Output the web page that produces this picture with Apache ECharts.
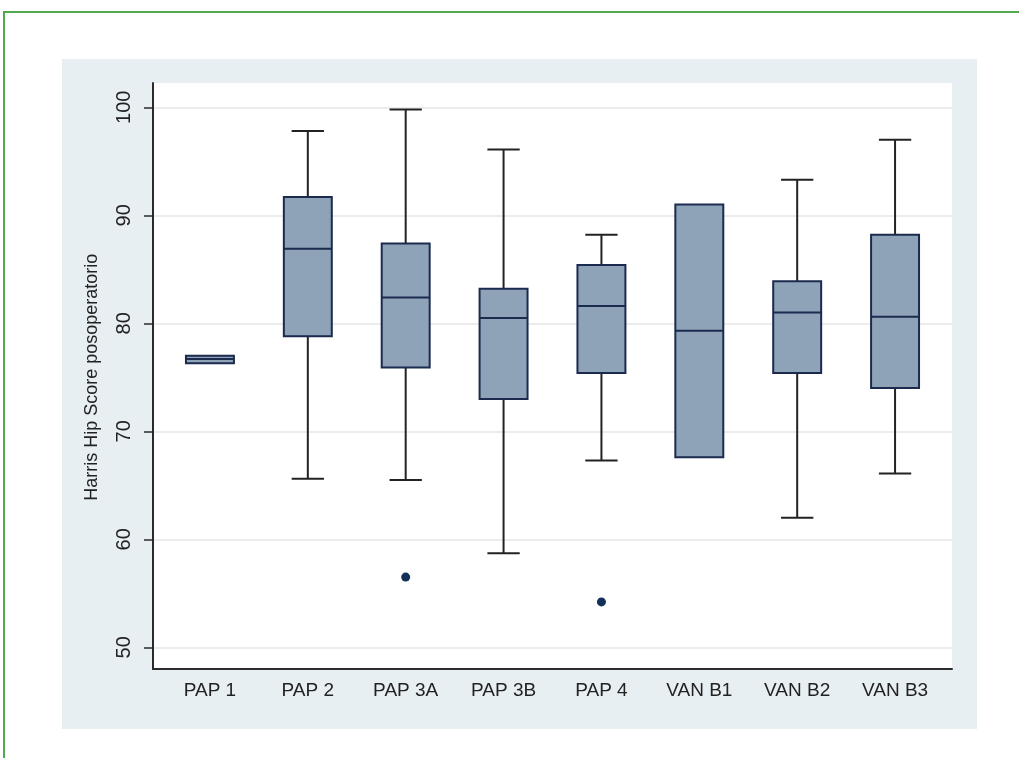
<!DOCTYPE html>
<html>
<head>
<meta charset="utf-8">
<style>
  html, body { margin: 0; padding: 0; background: #ffffff; }
  #chart { width: 1019px; height: 758px; }
</style>
<script src="https://cdn.jsdelivr.net/npm/echarts@6/dist/echarts.min.js"></script>
</head>
<body>
<div id="chart"></div>
<script>
// Harris Hip Score after surgery, by group
const categories = ['PAP 1', 'PAP 2', 'PAP 3A', 'PAP 3B', 'PAP 4', 'VAN B1', 'VAN B2', 'VAN B3'];
const whiskerLow  = [76.3, 65.6, 65.5, 58.7, 67.3, 67.6, 62.0, 66.1];
const quartile1   = [76.3, 78.8, 75.9, 73.0, 75.4, 67.6, 75.4, 74.0];
const medians     = [76.7, 86.9, 82.4, 80.5, 81.6, 79.3, 81.0, 80.6];
const quartile3   = [77.0, 91.7, 87.4, 83.2, 85.4, 91.0, 83.9, 88.2];
const whiskerHigh = [77.0, 97.8, 99.8, 96.1, 88.2, 91.0, 93.3, 97.0];
const outliers = [['PAP 3A', 56.5], ['PAP 4', 54.2]];
const yTicks = { min: 50, max: 100, step: 10 };
const yTitle = 'Harris Hip Score posoperatorio';

const FONT = '"Liberation Sans", Arial, Helvetica, sans-serif';
const BOX_FILL = '#8ea3b8';
const BOX_EDGE = '#1b2a4e';
const WHISKER = '#222222';

const boxData = categories.map((c, i) => [i, whiskerLow[i], quartile1[i], medians[i], quartile3[i], whiskerHigh[i]]);

function renderBox(params, api) {
  const idx = api.value(0);
  const band = api.size([1, 0])[0];
  const boxW = band * 0.49;
  const capW = band * 0.33;
  const pLow = api.coord([idx, api.value(1)]);
  const pQ1 = api.coord([idx, api.value(2)]);
  const pMed = api.coord([idx, api.value(3)]);
  const pQ3 = api.coord([idx, api.value(4)]);
  const pHigh = api.coord([idx, api.value(5)]);
  const cx = pMed[0];
  const children = [];
  const whiskerStyle = { stroke: WHISKER, lineWidth: 2 };
  if (pLow[1] - pQ1[1] > 0.5) {
    children.push({ type: 'line', shape: { x1: cx, y1: pQ1[1], x2: cx, y2: pLow[1] }, style: whiskerStyle });
    children.push({ type: 'line', shape: { x1: cx - capW / 2, y1: pLow[1], x2: cx + capW / 2, y2: pLow[1] }, style: whiskerStyle });
  }
  if (pQ3[1] - pHigh[1] > 0.5) {
    children.push({ type: 'line', shape: { x1: cx, y1: pHigh[1], x2: cx, y2: pQ3[1] }, style: whiskerStyle });
    children.push({ type: 'line', shape: { x1: cx - capW / 2, y1: pHigh[1], x2: cx + capW / 2, y2: pHigh[1] }, style: whiskerStyle });
  }
  children.push({
    type: 'rect',
    shape: { x: cx - boxW / 2, y: pQ3[1], width: boxW, height: pQ1[1] - pQ3[1] },
    style: { fill: BOX_FILL, stroke: BOX_EDGE, lineWidth: 2 }
  });
  children.push({
    type: 'line',
    shape: { x1: cx - boxW / 2, y1: pMed[1], x2: cx + boxW / 2, y2: pMed[1] },
    style: { stroke: BOX_EDGE, lineWidth: 2 }
  });
  return { type: 'group', children: children };
}

const chart = echarts.init(document.getElementById('chart'), null, { renderer: 'canvas' });

chart.setOption({
  animation: false,
  backgroundColor: '#ffffff',
  textStyle: { fontFamily: FONT },
  graphic: [
    { type: 'polyline', z: -2, shape: { points: [[4, 758], [4, 12], [1019, 12]] },
      style: { stroke: '#52a84c', lineWidth: 2, fill: null } },
    { type: 'rect', z: -1, shape: { x: 62, y: 59, width: 915, height: 670 },
      style: { fill: '#e8eff2' } }
  ],
  grid: [
    // frame with axis lines
    { left: 153, width: 799, top: 83, height: 586, show: true, backgroundColor: '#ffffff', borderWidth: 0 },
    // value scale, ticks and grid lines
    { left: 153, width: 799, top: 107.3, height: 540 },
    // category bands holding the boxes
    { left: 161, width: 783, top: 107.3, height: 540 }
  ],
  xAxis: [
    { gridIndex: 0, type: 'value', min: 0, max: 1,
      axisLine: { show: true, lineStyle: { color: '#2b2b2b', width: 2 } },
      axisTick: { show: false }, axisLabel: { show: false }, splitLine: { show: false } },
    { gridIndex: 1, type: 'value', min: 0, max: 1, show: false },
    { gridIndex: 2, type: 'category', data: categories, boundaryGap: true, offset: 21.7,
      axisLine: { show: false }, axisTick: { show: false },
      axisLabel: { color: '#222222', fontSize: 19, margin: 12, fontFamily: FONT } }
  ],
  yAxis: [
    { gridIndex: 0, type: 'value', min: 0, max: 1,
      axisLine: { show: true, lineStyle: { color: '#2b2b2b', width: 2 } },
      axisTick: { show: false }, axisLabel: { show: false }, splitLine: { show: false } },
    { gridIndex: 1, type: 'value', min: yTicks.min, max: yTicks.max, interval: yTicks.step,
      name: yTitle, nameLocation: 'middle', nameGap: 52, nameRotate: 90,
      nameTextStyle: { color: '#222222', fontSize: 18, fontFamily: FONT },
      axisLine: { show: false },
      axisTick: { show: true, length: 9, lineStyle: { color: '#2b2b2b', width: 1.5 } },
      axisLabel: { color: '#222222', fontSize: 20, rotate: 90, margin: 19, fontFamily: FONT },
      splitLine: { show: true, lineStyle: { color: '#e6e6e6', width: 1.5 } } },
    { gridIndex: 2, type: 'value', min: yTicks.min, max: yTicks.max, show: false }
  ],
  series: [
    {
      type: 'custom',
      xAxisIndex: 2, yAxisIndex: 2,
      renderItem: renderBox,
      encode: { x: 0, y: [1, 2, 3, 4, 5] },
      data: boxData,
      clip: false
    },
    {
      type: 'scatter',
      xAxisIndex: 2, yAxisIndex: 2,
      symbol: 'circle', symbolSize: 9,
      itemStyle: { color: '#12305a', opacity: 1 },
      data: outliers
    }
  ]
});
</script>
</body>
</html>
